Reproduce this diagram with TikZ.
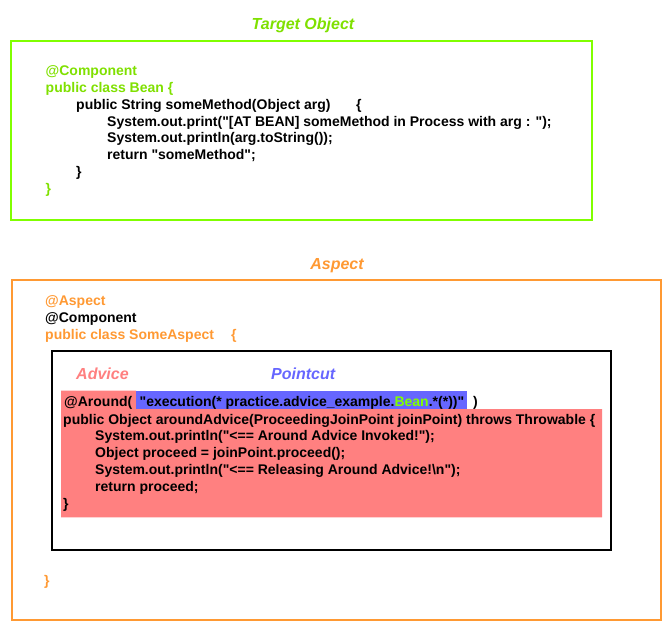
\documentclass[tikz,border=0pt]{standalone}
\usepackage{fontspec}
\setmainfont{Liberation Sans}
\newfontfamily\codefamily{Liberation Sans}
\usepackage{tikz}
\definecolor{targetgreen}{HTML}{80FF00}
\definecolor{targettext}{HTML}{7FE000}
\definecolor{aspectorange}{HTML}{FF9933}
\definecolor{advicered}{HTML}{FF8080}
\definecolor{pointcutblue}{HTML}{6666FF}
\newcommand{\codefont}{\codefamily\fontsize{14}{16.8}\selectfont\bfseries}
\newcommand{\titlefont}{\fontsize{16}{19.2}\selectfont\bfseries\itshape}

\begin{document}
\begin{tikzpicture} [x = 1pt, y = -1pt,
  code/.style = {anchor = base west, inner sep = 0pt, font = \codefont},
  title/.style = {anchor = base, inner sep = 0pt, font = \titlefont},
  frame/.style = {line width = 2pt}]
\useasboundingbox (0, 0) rectangle (672, 631);
\node[title, targettext] (targetTitle) at (303, 30) {Target Object};
\draw[frame, targetgreen] (11, 41) rectangle (592, 220);
\node[code, targettext] (tgtAnnot) at (45.5, 75.5) {@Component};
\node[code, targettext] (tgtClass) at (45.5, 92.4) {public class Bean \{};
\node[code] (tgtMethod) at (76, 109.2) {public String someMethod(Object arg)\hspace{25.5pt}\{};
\node[code] (tgtPrint) at (107, 126.1) {System.out.print("[AT BEAN] someMethod in Process with arg : ");};
\node[code] (tgtPrintln) at (107, 142.9) {System.out.println(arg.toString());};
\node[code] (tgtReturn) at (107, 159.8) {return "someMethod";};
\node[code] (tgtMethodEnd) at (76, 176.6) {\}};
\node[code, targettext] (tgtClassEnd) at (45.5, 193.5) {\}};
\node[title, aspectorange] (aspectTitle) at (337, 269.3) {Aspect};
\draw[frame, aspectorange] (11.8, 280) rectangle (661, 620);
\node[code, aspectorange] (aspAnnot) at (45, 305) {@Aspect};
\node[code] (aspComp) at (45, 322) {@Component};
\node[code, aspectorange] (aspClass) at (45, 339) {public class SomeAspect\hspace{17pt}\{};
\node[code, aspectorange] (aspClassEnd) at (44, 585) {\}};
\draw[line width = 2.4pt, black!50] (52, 351) rectangle (611, 550);
\draw[line width = 1.2pt] (52, 351) rectangle (611, 550);
\node[title, advicered, anchor = base west] (adviceLabel) at (76, 379.5) {Advice};
\node[title, pointcutblue, anchor = base west] (pointcutLabel) at (271, 379.5) {Pointcut};
\fill[advicered] (61, 390.5) -- (136, 390.5) -- (136, 409) -- (602, 409) -- (602, 517.3) -- (61, 517.3) -- cycle;
\fill[pointcutblue] (136, 390.5) rectangle (466.7, 408.5);
\node[code] (around) at (64, 406.5) {@Around(};
\node[code] (pointcut) at (139.5, 406.5) {"execution(* practice.advice\_example.{\color{targetgreen}Bean}.*(*))"};
\node[code] (aroundEnd) at (473, 406.5) {)};
\node[code] (advSig) at (63, 424) {public Object aroundAdvice(ProceedingJoinPoint joinPoint) throws Throwable \{};
\node[code] (advInvoke) at (95, 440.8) {System.out.println("<== Around Advice Invoked!");};
\node[code] (advProceed) at (95, 457.6) {Object proceed = joinPoint.proceed();};
\node[code] (advRelease) at (95, 474.4) {System.out.println("<== Releasing Around Advice!\textbackslash n");};
\node[code] (advReturn) at (95, 491.2) {return proceed;};
\node[code] (advEnd) at (63, 508) {\}};
\end{tikzpicture}
\end{document}
